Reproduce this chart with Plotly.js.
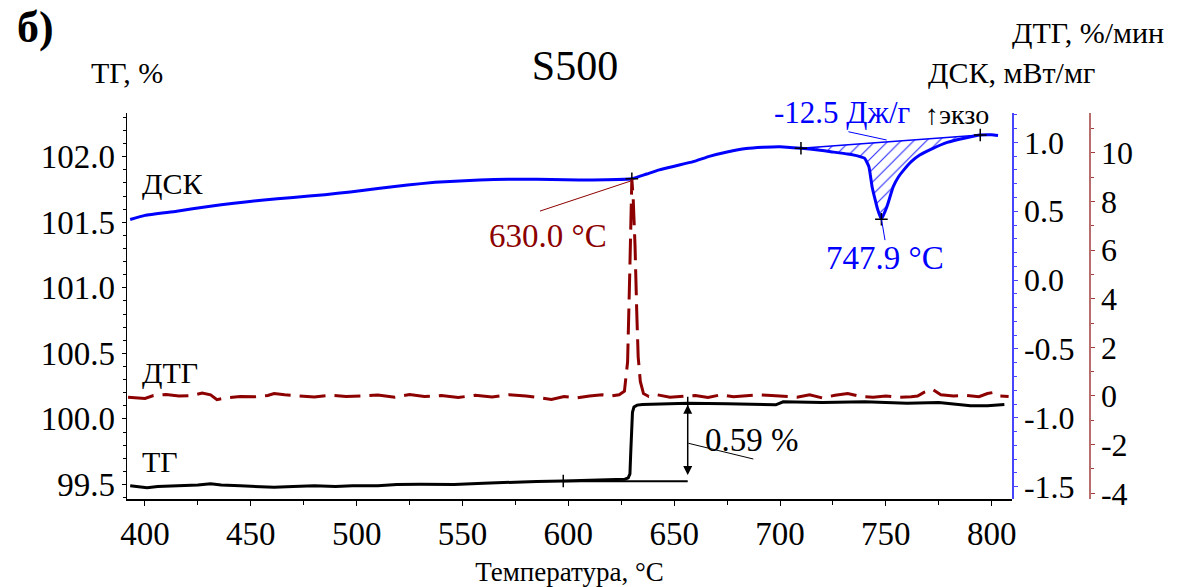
<!DOCTYPE html>
<html>
<head>
<meta charset="utf-8">
<script src="https://cdn.plot.ly/plotly-3.0.1.min.js"></script>
<style>html,body{margin:0;padding:0;background:#fff;}#chart{width:1195px;height:587px;}</style>
</head>
<body>
<div id="chart"></div>
<script>
// ---- Data ----
// DSC, mW/mg (right blue axis)
const dscT = [393, 400, 415, 430, 442, 455, 470, 485, 497, 510, 524, 537, 551, 565, 578, 592, 605, 618, 630, 637, 643, 651, 659, 667, 675, 684, 692, 700, 709.9, 718, 724, 732, 737, 740, 742, 743.5, 745, 746, 747.9, 750.5, 753.5, 756, 758.5, 762, 766, 772, 779, 787, 794.6, 800, 803];
const dscV = [0.44, 0.47, 0.50, 0.535, 0.558, 0.58, 0.60, 0.62, 0.64, 0.665, 0.69, 0.71, 0.722, 0.73, 0.732, 0.731, 0.727, 0.728, 0.735, 0.77, 0.80, 0.83, 0.86, 0.90, 0.93, 0.955, 0.964, 0.968, 0.957, 0.945, 0.932, 0.915, 0.90, 0.884, 0.823, 0.678, 0.58, 0.52, 0.442, 0.533, 0.678, 0.75, 0.80, 0.86, 0.908, 0.955, 1.0, 1.03, 1.053, 1.055, 1.05];
// DTG, %/min (far right red axis)
const dtgT = [392, 396, 400, 404, 410, 416, 422, 427, 431, 434, 438, 445, 452, 458, 461, 466, 472, 480, 488, 495, 502, 510, 518, 525, 532, 540, 548, 556, 564, 572, 580, 586, 592, 598, 604, 610, 616, 620, 624, 626.5, 628, 629, 629.6, 630, 630.6, 631.5, 632.3, 633, 634, 635.5, 638, 642, 648, 654, 660, 666, 672, 678, 684, 690, 696, 702, 708, 714, 720, 726, 732, 738, 744, 750, 756, 762, 765, 768, 772, 776, 782, 788, 794, 798, 801, 804, 808];
const dtgV = [-0.05, -0.08, -0.1, 0.02, 0.06, 0.0, 0.02, 0.12, 0.05, -0.15, -0.08, -0.02, -0.03, 0.02, 0.1, 0.05, 0.0, -0.04, 0.03, -0.02, 0.0, 0.04, -0.05, 0.06, -0.02, 0.02, -0.06, 0.03, -0.04, 0.05, 0.0, -0.08, -0.14, -0.02, -0.08, 0.0, 0.05, 0.0, 0.05, 0.2, 1.4, 5.0, 7.5, 8.9, 8.2, 6.2, 3.5, 1.6, 0.6, 0.1, -0.02, 0.05, -0.05, 0.0, 0.02, -0.06, 0.05, -0.03, 0.0, 0.05, 0.02, 0.0, -0.05, 0.05, -0.08, 0.03, 0.1, -0.02, -0.05, 0.0, -0.05, -0.03, 0.0, 0.15, 0.27, 0.05, 0.0, 0.02, -0.03, 0.1, 0.15, 0.0, -0.02];
// TG, % (left axis)
const tgT = [393, 397, 401, 406, 415, 425, 431, 436, 445, 455, 461, 470, 480, 490, 498, 510, 519, 530, 546, 560, 572, 585, 597.6, 610, 620, 626.7, 628.3, 629.1, 629.5, 629.8, 630.3, 631, 632.5, 635, 645, 656.4, 675, 690, 698, 701.5, 710, 720, 740, 760, 775, 785, 790, 798, 803, 806];
const tgV = [99.49, 99.485, 99.475, 99.485, 99.49, 99.495, 99.505, 99.495, 99.49, 99.485, 99.478, 99.485, 99.49, 99.485, 99.49, 99.49, 99.50, 99.502, 99.50, 99.51, 99.518, 99.522, 99.526, 99.53, 99.535, 99.54, 99.55, 99.58, 99.75, 99.95, 100.05, 100.09, 100.105, 100.11, 100.115, 100.12, 100.115, 100.11, 100.107, 100.13, 100.128, 100.125, 100.13, 100.12, 100.125, 100.11, 100.10, 100.10, 100.105, 100.11];

// Event markers and annotations
const dscMarkT = [630.0, 709.9, 747.9, 794.6];
const peakArea = [709.9, 794.6];          // integration limits
const tgMarkT = [597.6, 656.4];           // mass-change limits
const tgStepLow = 99.525, tgStepHigh = 100.12;

// Tick values/labels
const xTicks = [400, 450, 500, 550, 600, 650, 700, 750, 800];
const tgTicks = [99.5, 100.0, 100.5, 101.0, 101.5, 102.0];
const tgTickText = ['99.5', '100.0', '100.5', '101.0', '101.5', '102.0'];
const dscTicks = [-1.5, -1.0, -0.5, 0.0, 0.5, 1.0];
const dscTickText = ['-1.5', '-1.0', '-0.5', '0.0', '0.5', '1.0'];
const dtgTicks = [-4, -2, 0, 2, 4, 6, 8, 10];
const dtgTickText = ['-4', '-2', '0', '2', '4', '6', '8', '10'];

function interp(xs, ys, x) {
  for (let i = 0; i < xs.length - 1; i++) {
    if (x >= xs[i] && x <= xs[i + 1]) {
      const t = (x - xs[i]) / (xs[i + 1] - xs[i]);
      return ys[i] + t * (ys[i + 1] - ys[i]);
    }
  }
  return ys[ys.length - 1];
}

const segT = [], segV = [];
dscT.forEach((t, i) => { if (t >= peakArea[0] && t <= peakArea[1]) { segT.push(t); segV.push(dscV[i]); } });
const baseV = peakArea.map(t => interp(dscT, dscV, t));

const BLUE = 'rgb(0,0,255)';
const DRED = 'rgb(140,0,0)';
const FONT = '"Liberation Serif", "Times New Roman", serif';

const traces = [
  { x: tgT, y: tgV, xaxis: 'x', yaxis: 'y', mode: 'lines', line: { color: 'black', width: 3 }, hoverinfo: 'skip' },
  { x: dtgT, y: dtgV, xaxis: 'x', yaxis: 'y3', mode: 'lines', line: { color: DRED, width: 3, dash: '26px,9px' }, hoverinfo: 'skip' },
  { x: segT, y: segV, xaxis: 'x', yaxis: 'y2', mode: 'lines', line: { color: BLUE, width: 0 }, hoverinfo: 'skip' },
  { x: peakArea, y: baseV, xaxis: 'x', yaxis: 'y2', mode: 'lines', line: { color: BLUE, width: 1.5 }, fill: 'tonexty', fillcolor: 'rgba(0,0,0,0)',
    fillpattern: { shape: '/', fgcolor: 'rgb(40,40,255)', bgcolor: 'rgba(255,255,255,0)', size: 9, solidity: 0.12 }, hoverinfo: 'skip' },
  { x: dscT, y: dscV, xaxis: 'x', yaxis: 'y2', mode: 'lines', line: { color: BLUE, width: 3, shape: 'spline', smoothing: 0.4 }, hoverinfo: 'skip' },
  { x: dscMarkT, y: dscMarkT.map(t => interp(dscT, dscV, t)), xaxis: 'x', yaxis: 'y2', mode: 'markers',
    marker: { symbol: 'cross-thin', size: 9, line: { color: 'black', width: 1.5 } }, hoverinfo: 'skip' },
  { x: tgMarkT, y: tgMarkT.map(t => interp(tgT, tgV, t)), xaxis: 'x', yaxis: 'y', mode: 'markers',
    marker: { symbol: 'cross-thin', size: 9, line: { color: 'black', width: 1.5 } }, hoverinfo: 'skip' }
];

const W = 962, H = 386, L = 127, T0 = 113;
const px = x => (x - L) / W;
const py = y => (T0 + H - y) / H;

function note(text, x, y, size, color, extra) {
  return Object.assign({ text: text, x: px(x), y: py(y), xref: 'paper', yref: 'paper', showarrow: false,
    xanchor: 'center', yanchor: 'middle', font: { family: FONT, size: size, color: color || 'black' } }, extra || {});
}

const layout = {
  width: 1195, height: 587,
  margin: { l: L, r: 1195 - L - W, t: T0, b: 587 - T0 - H, pad: 0 },
  paper_bgcolor: 'white', plot_bgcolor: 'white',
  showlegend: false,
  font: { family: FONT, size: 33, color: 'black' },
  title: { text: 'S500', x: 575 / 1195, y: 1 - 65 / 587, xanchor: 'center', yanchor: 'middle', font: { family: FONT, size: 42, color: 'black' } },
  xaxis: {
    domain: [0, 885 / 962], range: [391.5, 809.6], showgrid: false, zeroline: false,
    showline: true, linecolor: 'black', linewidth: 1.5, ticks: 'outside', ticklen: 5, tickwidth: 1, tickcolor: 'black',
    tickmode: 'array', tickvals: xTicks, ticktext: xTicks.map(String),
    minor: { tickmode: 'linear', tick0: 400, dtick: 25, ticks: 'outside', ticklen: 4, tickcolor: 'black' },
    tickfont: { family: FONT, size: 33 },
    title: { text: 'Температура, °C', font: { family: FONT, size: 27 }, standoff: 15 }
  },
  yaxis: {
    range: [99.389, 102.333], showgrid: false, zeroline: false,
    showline: true, linecolor: 'black', linewidth: 1.5, ticks: 'outside', ticklen: 4, tickcolor: 'black',
    tickmode: 'array', tickvals: tgTicks, ticktext: tgTickText,
    minor: { tickmode: 'linear', tick0: 99.5, dtick: 0.1, ticks: 'outside', ticklen: 3, tickcolor: 'black' },
    tickfont: { family: FONT, size: 33 }
  },
  yaxis2: {
    overlaying: 'y', anchor: 'free', position: 885 / 962, side: 'right',
    range: [-1.589, 1.213], showgrid: false, zeroline: false,
    showline: true, linecolor: 'rgb(70,70,255)', linewidth: 1.5, ticks: 'outside', ticklen: 4, tickcolor: 'rgb(70,70,255)',
    tickmode: 'array', tickvals: dscTicks, ticktext: dscTickText,
    minor: { tickmode: 'linear', tick0: 0, dtick: 0.1, ticks: 'outside', ticklen: 3, tickcolor: 'rgb(70,70,255)' },
    tickfont: { family: FONT, size: 32 }
  },
  yaxis3: {
    overlaying: 'y', anchor: 'free', position: 1, side: 'right',
    range: [-4.234, 11.632], showgrid: false, zeroline: false,
    showline: true, linecolor: 'rgb(185,110,110)', linewidth: 1.5, ticks: 'outside', ticklen: 4, tickcolor: 'rgb(160,60,60)',
    tickmode: 'array', tickvals: dtgTicks, ticktext: dtgTickText,
    minor: { tickmode: 'linear', tick0: 0, dtick: 1, ticks: 'outside', ticklen: 3, tickcolor: 'rgb(160,60,60)' },
    tickfont: { family: FONT, size: 32 }
  },
  shapes: [
    { type: 'line', xref: 'x', yref: 'y', x0: tgMarkT[0], x1: tgMarkT[1], y0: tgStepLow, y1: tgStepLow, line: { color: 'black', width: 2 } },
    { type: 'line', xref: 'x', yref: 'y', x0: 656.7, x1: 687.4, y0: 99.814, y1: 99.694, line: { color: 'black', width: 1 } },
    { type: 'line', xref: 'x', yref: 'y2', x0: 586.6, x1: 629.6, y0: 0.501, y1: 0.72, line: { color: DRED, width: 1 } },
    { type: 'line', xref: 'x', yref: 'y2', x0: 748.0, x1: 749.6, y0: 0.436, y1: 0.29, line: { color: BLUE, width: 1 } },
    { type: 'line', xref: 'x', yref: 'y2', x0: 732.3, x1: 750.4, y0: 1.077, y1: 1.017, line: { color: BLUE, width: 1 } }
  ],
  annotations: [
    { x: tgMarkT[1], y: tgStepHigh - 0.013, ax: tgMarkT[1], ay: tgStepLow + 0.035, xref: 'x', yref: 'y', axref: 'x', ayref: 'y',
      text: '', showarrow: true, arrowhead: 2, startarrowhead: 2, arrowside: 'end+start', arrowsize: 1.2, arrowwidth: 1.5, arrowcolor: 'black', standoff: 0, startstandoff: 0 },
    note('б)', 35, 27, 44, 'black', { font: { family: FONT, size: 44, color: 'black', weight: 'bold' } }),
    note('ТГ, %', 127, 72, 30),
    note('ДТГ, %/мин', 1088, 33, 30),
    note('ДСК, мВт/мг', 1011, 72, 30),
    note('-12.5 Дж/г', 842, 112, 31, BLUE),
    note('↑экзо', 957, 114, 28),
    note('ДСК', 172, 183, 30),
    note('ДТГ', 170, 372, 30),
    note('ТГ', 160, 461, 30),
    note('630.0 °C', 548, 236, 33, DRED),
    note('747.9 °C', 885, 258, 33, BLUE),
    note('0.59 %', 752, 440, 33)
  ]
};

Plotly.newPlot('chart', traces, layout, { displayModeBar: false, staticPlot: true });
</script>
</body>
</html>
